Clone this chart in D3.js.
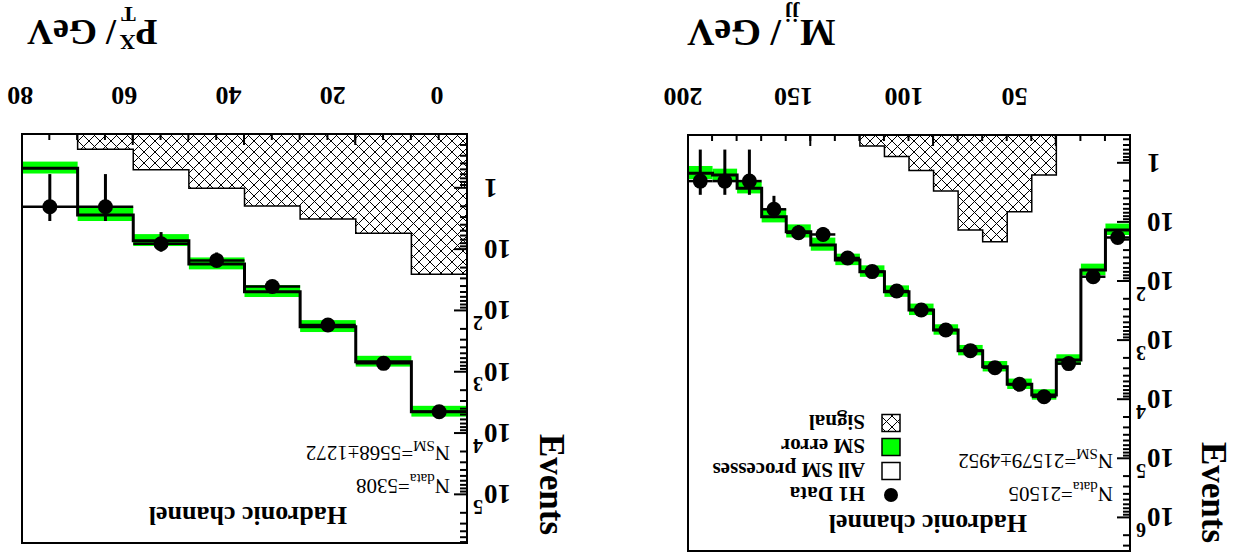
<!DOCTYPE html>
<html>
<head>
<meta charset="utf-8">
<script src="https://cdn.jsdelivr.net/npm/d3@7"></script>
<style>
  body { margin: 0; background: #fff; }
  text { font-family: "Liberation Serif", "Times New Roman", serif; fill: #000; }
</style>
</head>
<body>
<div id="chart"></div>
<script>
var width = 1233, height = 559;

// M_jj panel (18 bins from 0 to 200 GeV)
var mjjRange   = [0, 200];
var mjjSM      = [13.4, 63.9, 2130, 8320, 5490, 2770, 1480, 662, 303, 149, 68.3, 43.3, 24.1, 14.4, 8.0, 2.65, 1.58, 1.48];
var mjjErr     = [0.22, 0.22, 0.2, 0.2, 0.2, 0.2, 0.2, 0.2, 0.22, 0.22, 0.22, 0.22, 0.25, 0.25, 0.25, 0.22, 0.22, 0.25];
var mjjData    = [18, 83, 2450, 8890, 5490, 2870, 1480, 662, 303, 145, 68, 40, 16, 15, 6, 2, 2, 2];
var mjjSignal  = [0, 0, 0, 1.58, 6.59, 21.2, 13.4, 2.94, 1.33, 0.77, 0.51, 0, 0, 0, 0, 0, 0, 0];
var mjjLabels  = [50, 100, 150, 200];

// p_T^X panel (8 bins)
var ptRange    = [-4.8, 80.6];
var ptSM       = [4410, 674, 181, 48.6, 17.2, 7.16, 2.73, 0.47];
var ptErr      = [0.2, 0.2, 0.22, 0.22, 0.22, 0.22, 0.25, 0.22];
var ptData     = [4410, 716, 170, 40, 15, 8, 2, 2];
var ptSignal   = [25.3, 5.42, 3.17, 1.94, 1.0, 0.50, 0.23, 0];
var ptLabels   = [0, 20, 40, 60, 80];

var svg = d3.select("#chart").append("svg")
  .attr("width", width).attr("height", height);
var defs = svg.append("defs");

// cross hatch for the signal
var pat = defs.append("pattern").attr("id", "hatch")
  .attr("patternUnits", "userSpaceOnUse").attr("width", 11).attr("height", 11);
pat.append("rect").attr("width", 11).attr("height", 11).attr("fill", "#fff");
pat.append("path").attr("d", "M0,0L11,11M0,11L11,0M-1,1L1,-1M10,12L12,10")
  .attr("stroke", "#000").attr("stroke-width", 1);

// the whole figure is shown upside down
var g = svg.append("g").attr("transform", "rotate(180 " + width/2 + " " + height/2 + ")");

function drawPanel(p) {
  var n = p.sm.length;
  var x = d3.scaleLinear().domain(p.xdom).range([p.left, p.right]);
  var y = d3.scaleLog().domain(p.ydom).range([p.bottom, p.top]);
  var bw = (p.xdom[1] - p.xdom[0]) / n;
  var edges = d3.range(n + 1).map(function(i) { return p.xdom[0] + i * bw; });
  var ymin = p.ydom[0];

  defs.append("clipPath").attr("id", "clip-" + p.id).append("rect")
    .attr("x", p.left).attr("y", p.top)
    .attr("width", p.right - p.left).attr("height", p.bottom - p.top);
  var plot = g.append("g").attr("clip-path", "url(#clip-" + p.id + ")");

  // signal histogram
  var sig = p.sig.map(function(v, i) { return [edges[i], v > 0 ? v : ymin / 10]; });
  sig.push([edges[n], ymin / 10]);
  plot.append("path").datum(sig)
    .attr("d", d3.area().curve(d3.curveStepAfter)
      .x(function(d) { return x(d[0]); })
      .y0(y(ymin) + 20)
      .y1(function(d) { return Math.min(y(d[1]), y(ymin) + 20); }))
    .attr("fill", "url(#hatch)").attr("stroke", "#000").attr("stroke-width", 1.5);

  // SM error band
  plot.selectAll(".band").data(p.sm).enter().append("rect")
    .attr("x", function(d, i) { return x(edges[i]); })
    .attr("width", x(edges[1]) - x(edges[0]))
    .attr("y", function(d, i) { return y(d * (1 + p.err[i])); })
    .attr("height", function(d, i) { return y(d * (1 - p.err[i])) - y(d * (1 + p.err[i])); })
    .attr("fill", "#00ff00");

  // SM line
  var sm = p.sm.map(function(v, i) { return [edges[i], v]; });
  sm.push([edges[n], p.sm[n - 1]]);
  plot.append("path").datum(sm)
    .attr("d", d3.line().curve(d3.curveStepAfter)
      .x(function(d) { return x(d[0]); })
      .y(function(d) { return y(d[1]); }))
    .attr("fill", "none").attr("stroke", "#000").attr("stroke-width", 3);

  // data points
  var pts = plot.selectAll(".pt").data(p.data).enter().append("g");
  pts.append("line")
    .attr("x1", function(d, i) { return x(edges[i]); })
    .attr("x2", function(d, i) { return x(edges[i + 1]); })
    .attr("y1", function(d) { return y(d); }).attr("y2", function(d) { return y(d); })
    .attr("stroke", "#000").attr("stroke-width", 2.5);
  pts.append("line")
    .attr("x1", function(d, i) { return x(edges[i] + bw / 2); })
    .attr("x2", function(d, i) { return x(edges[i] + bw / 2); })
    .attr("y1", function(d) { return y(Math.max(d - Math.sqrt(d), ymin / 10)); })
    .attr("y2", function(d) { return y(d + Math.sqrt(d)); })
    .attr("stroke", "#000").attr("stroke-width", 3);
  pts.append("circle")
    .attr("cx", function(d, i) { return x(edges[i] + bw / 2); })
    .attr("cy", function(d) { return y(d); })
    .attr("r", 7.5).attr("fill", "#000");

  // frame
  g.append("rect").attr("x", p.left).attr("y", p.top)
    .attr("width", p.right - p.left).attr("height", p.bottom - p.top)
    .attr("fill", "none").attr("stroke", "#000").attr("stroke-width", 2);

  // x ticks
  var xMinor = d3.range(1, p.xSub * n).map(function(i) { return p.xdom[0] + i * bw / p.xSub; });
  var xMajor = p.xMajor.map(function(i) { return p.xdom[0] + i * bw / p.xSub; });
  [[xMinor, 6], [xMajor, 11]].forEach(function(t) {
    var ax = g.append("g").attr("transform", "translate(0," + p.bottom + ")")
      .call(d3.axisBottom(x).tickValues(t[0]).tickSize(-t[1]).tickFormat(""));
    ax.select(".domain").remove();
    ax.selectAll("line").attr("stroke-width", 2);
  });
  p.labels.forEach(function(v) {
    g.append("text").attr("x", x(v) + 5).attr("y", p.bottom + 47)
      .attr("text-anchor", "middle").style("font-size", "26px").style("font-weight", "bold")
      .text(v);
  });

  // y ticks (log)
  var decades = d3.range(Math.floor(Math.log10(p.ydom[0])), Math.ceil(Math.log10(p.ydom[1])) + 1);
  var yMinor = [], yMajor = [];
  decades.forEach(function(k) {
    for (var m = 1; m < 10; m++) {
      var v = m * Math.pow(10, k);
      if (v >= p.ydom[0] && v <= p.ydom[1]) (m == 1 ? yMajor : yMinor).push(v);
    }
  });
  [[yMinor, 7], [yMajor, 13]].forEach(function(t) {
    var ax = g.append("g").attr("transform", "translate(" + p.left + ",0)")
      .call(d3.axisLeft(y).tickValues(t[0]).tickSize(-t[1]).tickFormat(""));
    ax.select(".domain").remove();
    ax.selectAll("line").attr("stroke-width", 2);
  });
  yMajor.forEach(function(v) {
    var k = Math.round(Math.log10(v));
    g.append("text").attr("x", p.left - 17).attr("y", y(v)).attr("dy", "0.36em")
      .attr("text-anchor", "end").style("font-size", "27px").style("font-weight", "bold")
      .text(k == 0 ? "1" : "10");
    if (k > 1) {
      g.append("text").attr("x", p.left - 16).attr("y", y(v) - 5)
        .style("font-size", "20px").style("font-weight", "bold").text(k);
    }
  });

  // Events label
  g.append("text")
    .attr("transform", "translate(" + p.evX + "," + (p.top + 8) + ") rotate(-90)")
    .attr("text-anchor", "end").style("font-size", "35px").style("font-weight", "bold")
    .text("Events");

  // channel + numbers
  g.append("text").attr("x", p.left + p.chanDx).attr("y", p.top + 36)
    .style("font-size", "26px").style("font-weight", "bold").text("Hadronic channel");
  var t1 = g.append("text").attr("x", p.left + 17).attr("y", p.top + 64).style("font-size", "21px");
  t1.append("tspan").text("N");
  t1.append("tspan").attr("dy", 5).style("font-size", "15px").text("data");
  t1.append("tspan").attr("dy", -5).text("=" + p.ndata);
  var t2 = g.append("text").attr("x", p.left + 17).attr("y", p.top + 97).style("font-size", "21px");
  t2.append("tspan").text("N");
  t2.append("tspan").attr("dy", 5).style("font-size", "15px").text("SM");
  t2.append("tspan").attr("dy", -5).text("=" + p.nsm);
}

drawPanel({
  id: "mjj", left: 103, right: 545, top: 8, bottom: 424,
  xdom: mjjRange, ydom: [0.332, 3.63e6],
  sm: mjjSM, err: mjjErr, data: mjjData, sig: mjjSignal,
  xSub: 1, xMajor: [3, 8, 13], labels: mjjLabels,
  evX: 31, chanDx: 103, ndata: "21505", nsm: "21579\u00b14952"
});

drawPanel({
  id: "pt", left: 766, right: 1211, top: 16, bottom: 425,
  xdom: ptRange, ydom: [0.130, 6.1e5],
  sm: ptSM, err: ptErr, data: ptData, sig: ptSignal,
  xSub: 2, xMajor: [4, 8, 12], labels: ptLabels,
  evX: 693, chanDx: 120, ndata: "5308", nsm: "5568\u00b11272"
});

// axis titles
var t = g.append("text").attr("x", 546).attr("y", 539).attr("text-anchor", "end")
  .style("font-size", "38px").style("font-weight", "bold");
t.append("tspan").text("M");
t.append("tspan").attr("dy", 13).style("font-size", "22px").text("jj");
t.append("tspan").attr("dy", -13).attr("dx", 4).text("/ GeV");

var pt = g.append("text").attr("x", 1206).attr("y", 539).attr("text-anchor", "end")
  .style("font-size", "36px").style("font-weight", "bold");
pt.append("tspan").text("P");
pt.append("tspan").attr("dy", -15).style("font-size", "22px").text("X");
pt.append("tspan").attr("dy", 28).attr("dx", -16).style("font-size", "22px").text("T");
pt.append("tspan").attr("dy", -13).attr("dx", 5).text("/ GeV");

// legend (M_jj panel)
var legend = [
  { label: "H1 Data", type: "dot" },
  { label: "All SM processes", type: "box", fill: "#fff" },
  { label: "SM error", type: "box", fill: "#00ff00" },
  { label: "Signal", type: "box", fill: "url(#hatch)" }
];
legend.forEach(function(d, i) {
  var cy = 64 + i * 24;
  if (d.type == "dot") {
    g.append("circle").attr("cx", 342).attr("cy", cy).attr("r", 7).attr("fill", "#000");
  } else {
    g.append("rect").attr("x", 333).attr("y", cy - 8.5).attr("width", 18).attr("height", 17)
      .attr("fill", d.fill).attr("stroke", "#000").attr("stroke-width", 1.5);
  }
  g.append("text").attr("x", 368).attr("y", cy + 8)
    .style("font-size", "21px").style("font-weight", "bold").text(d.label);
});
</script>
</body>
</html>
